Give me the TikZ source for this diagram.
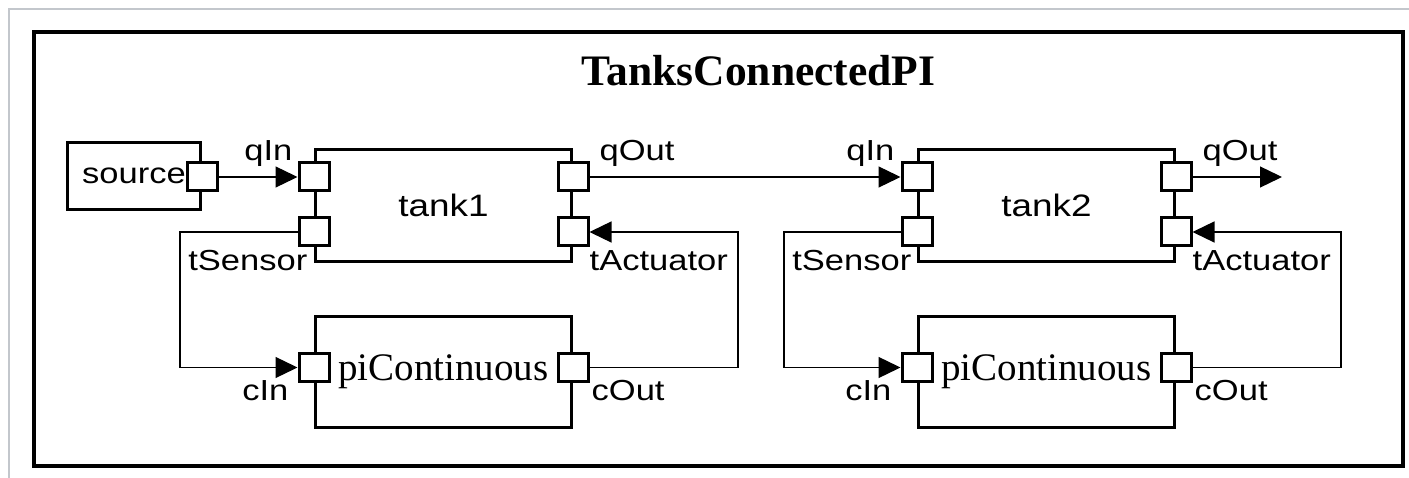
\documentclass[tikz,border=0pt]{standalone}
\usepackage{fontspec}
\setmainfont{Liberation Serif}
\newfontfamily\portfont[FakeStretch=1.19]{Liberation Sans}
\definecolor{framegray}{RGB}{195,199,204}
\usetikzlibrary{positioning,arrows.meta}

\begin{document}
\begin{tikzpicture}[
    x=1pt, y=-1pt,
    comp/.style={draw, line width=3pt, fill=white, inner sep=0pt,
                 minimum width=256pt, minimum height=112pt},
    tank/.style={comp, font=\portfont\fontsize{31}{31}\selectfont},
    ctrl/.style={comp, minimum height=111pt,
                 font=\fontsize{39}{39}\selectfont},
    srcbox/.style={comp, minimum width=133pt, minimum height=67pt,
                   font=\portfont\fontsize{29}{29}\selectfont},
    port/.style={draw, line width=3pt, fill=white, inner sep=0pt,
                 minimum width=30pt, minimum height=28pt},
    lbl/.style={font=\portfont\fontsize{29}{29}\selectfont, inner sep=0pt},
    title/.style={font=\bfseries\fontsize{43.5}{43.5}\selectfont, inner sep=0pt},
    arr/.style={->, >={Triangle[length=22pt, width=21pt]}, line width=1.3pt},
    conn/.style={line width=1.3pt},
]
\useasboundingbox (0,0) rectangle (1409,478);

% --- FRAMES ---
\draw[framegray, line width=1.5pt] (1409,9) -- (9,9) -- (9,478);
\draw[line width=4.5pt] (34,32) rectangle (1403,466);

\node[title] (title) at (758.5,71) {TanksConnectedPI};

% --- COMPONENTS ---
\node[srcbox] (src) at (134,176) {source};

\node[tank] (tank1) at (443.5,205.5) {tank1};
\node[ctrl] (pi1) at (443.5,372) {piContinuous};

\node[tank] (tank2) at (1046.5,205.5) {tank2};
\node[ctrl] (pi2) at (1046.5,372) {piContinuous};

% --- PORTS ---
\node[port] (srco) at (202,177) {};

\node[port] (t1qi) at ([yshift=28.5pt]tank1.west) {};
\node[port] (t1s)  at ([yshift=-26.5pt]tank1.west) {};
\node[port] (t1qo) at ([yshift=28.5pt]tank1.east) {};
\node[port] (t1a)  at ([yshift=-26.5pt]tank1.east) {};
\node[port] (p1i)  at ([yshift=4.5pt]pi1.west) {};
\node[port] (p1o)  at ([yshift=4.5pt]pi1.east) {};

\node[port] (t2qi) at ([yshift=28.5pt]tank2.west) {};
\node[port] (t2s)  at ([yshift=-26.5pt]tank2.west) {};
\node[port] (t2qo) at ([yshift=28.5pt]tank2.east) {};
\node[port] (t2a)  at ([yshift=-26.5pt]tank2.east) {};
\node[port] (p2i)  at ([yshift=4.5pt]pi2.west) {};
\node[port] (p2o)  at ([yshift=4.5pt]pi2.east) {};

% --- PORT LABELS ---
\node[lbl, above left=-5pt and 5pt of t1qi.north west] (t1qil) {qIn};
\node[lbl, above right=-5pt and 10pt of t1qo.north east] (t1qol) {qOut};
\node[lbl, below left=2.5pt and -10pt of t1s.south west] (t1sl) {tSensor};
\node[lbl, below right=3pt and 0pt of t1a.south east] (t1al) {tActuator};
\node[lbl, below left=-3pt and 9pt of p1i.south west] (p1il) {cIn};
\node[lbl, below right=-3pt and 2pt of p1o.south east] (p1ol) {cOut};

\node[lbl, above left=-5pt and 6pt of t2qi.north west] (t2qil) {qIn};
\node[lbl, above right=-5pt and 10pt of t2qo.north east] (t2qol) {qOut};
\node[lbl, below left=2.5pt and -11pt of t2s.south west] (t2sl) {tSensor};
\node[lbl, below right=3pt and 0pt of t2a.south east] (t2al) {tActuator};
\node[lbl, below left=-3pt and 9pt of p2i.south west] (p2il) {cIn};
\node[lbl, below right=-3pt and 2pt of p2o.south east] (p2ol) {cOut};

\coordinate (t2end) at (1282,177);

% --- CONNECTIONS ---
\draw[arr] (srco.east) -- (t1qi.west);
\draw[arr] (t1qo.east) -- (t2qi.west);
\draw[arr] (t2qo.east) -- (t2end);

\draw[arr] (t1s.west) -- ++(-117.5,0) |- (p1i.west);
\draw[arr] (p1o.east) -- ++(148.5,0) |- (t1a.east);

\draw[arr] (t2s.west) -- ++(-116.5,0) |- (p2i.west);
\draw[arr] (p2o.east) -- ++(148.5,0) |- (t2a.east);

\end{tikzpicture}
\end{document}
